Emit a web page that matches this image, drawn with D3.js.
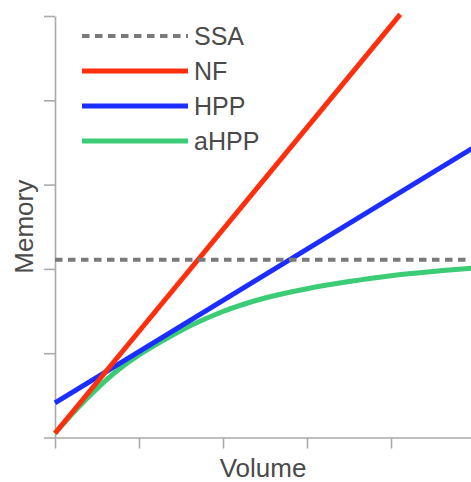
<!DOCTYPE html>
<html>
<head>
<meta charset="utf-8">
<script src="https://cdn.jsdelivr.net/npm/d3@7"></script>
<style>
  body { margin: 0; background: #fff; }
  svg { display: block; font-family: Arial, "Liberation Sans", sans-serif; }
</style>
</head>
<body>
<svg id="chart" width="471" height="482"></svg>
<script>
// data (unitless)
const seriesNames = ['SSA', 'NF', 'HPP', 'aHPP'];
const ssaLevel = 2.11;
const nfPoints = [[0, 0.05], [4.11, 5.02]];
const hppPoints = [[0, 0.41], [5, 3.45]];
const ahppX = [0, 0.25, 0.5, 0.75, 1.0, 1.25, 1.5, 1.75, 2.0, 2.5, 3.0, 3.5, 4.0, 4.5, 5.0];
const ahppY = [0.05, 0.33, 0.58, 0.80, 0.98, 1.13, 1.27, 1.39, 1.495, 1.655, 1.765, 1.85, 1.92, 1.97, 2.01];
const xTicks = [0, 1, 2, 3, 4, 5];
const yTicks = [0, 1, 2, 3, 4, 5];

const colors = { SSA: '#7a7a7a', NF: '#ff2e0c', HPP: '#1b2dff', aHPP: '#3ccc76' };

const svg = d3.select('#chart');
const margin = { top: 16, left: 55, bottom: 44.5 };
const height = 482;

const x = d3.scaleLinear().domain([0, 5]).range([margin.left, margin.left + 420]);
const y = d3.scaleLinear().domain([0, 5]).range([height - margin.bottom, margin.top]);

// axes
const axisColor = '#aaaaaa';
const xAxis = svg.append('g')
  .attr('transform', `translate(0,${y(0)})`)
  .call(d3.axisBottom(x).tickValues(xTicks).tickSize(11).tickSizeOuter(0).tickFormat(''));
const yAxis = svg.append('g')
  .attr('transform', `translate(${x(0)},0)`)
  .call(d3.axisLeft(y).tickValues(yTicks).tickSize(11).tickSizeOuter(0).tickFormat(''));
[xAxis, yAxis].forEach(g => {
  g.selectAll('path, line').attr('stroke', axisColor).attr('stroke-width', 1.6);
});

// lines
const line = d3.line().x(d => x(d[0])).y(d => y(d[1]));
const ahppPoints = ahppX.map((v, i) => [v, ahppY[i]]);

svg.append('path')
  .datum(ahppPoints)
  .attr('d', line.curve(d3.curveMonotoneX))
  .attr('fill', 'none').attr('stroke', colors.aHPP).attr('stroke-width', 5);

line.curve(d3.curveLinear);
svg.append('path')
  .datum(hppPoints)
  .attr('d', line)
  .attr('fill', 'none').attr('stroke', colors.HPP).attr('stroke-width', 5);

svg.append('path')
  .datum(nfPoints)
  .attr('d', line)
  .attr('fill', 'none').attr('stroke', colors.NF).attr('stroke-width', 5);

svg.append('path')
  .datum([[0, ssaLevel], [5, ssaLevel]])
  .attr('d', line)
  .attr('fill', 'none').attr('stroke', colors.SSA).attr('stroke-width', 4)
  .attr('stroke-dasharray', '7.5,5.5');

// legend
const legend = svg.append('g').attr('transform', 'translate(82,36)');
seriesNames.forEach((name, i) => {
  const row = legend.append('g').attr('transform', `translate(0,${i * 35})`);
  row.append('line')
    .attr('x1', 0).attr('x2', 106).attr('y1', 0).attr('y2', 0)
    .attr('stroke', colors[name])
    .attr('stroke-width', name === 'SSA' ? 4 : 5)
    .attr('stroke-dasharray', name === 'SSA' ? '7.5,5.5' : null);
  row.append('text')
    .attr('x', 112).attr('y', 9)
    .attr('font-size', 25).attr('fill', '#4a4a4a')
    .text(name);
});

// axis titles
svg.append('text')
  .attr('x', (x(0) + 471) / 2).attr('y', 477)
  .attr('text-anchor', 'middle')
  .attr('font-size', 26).attr('fill', '#4a4a4a')
  .text('Volume');

svg.append('text')
  .attr('transform', `translate(33,${(y(0) + y(5)) / 2}) rotate(-90)`)
  .attr('text-anchor', 'middle')
  .attr('font-size', 26).attr('fill', '#4a4a4a')
  .text('Memory');
</script>
</body>
</html>
